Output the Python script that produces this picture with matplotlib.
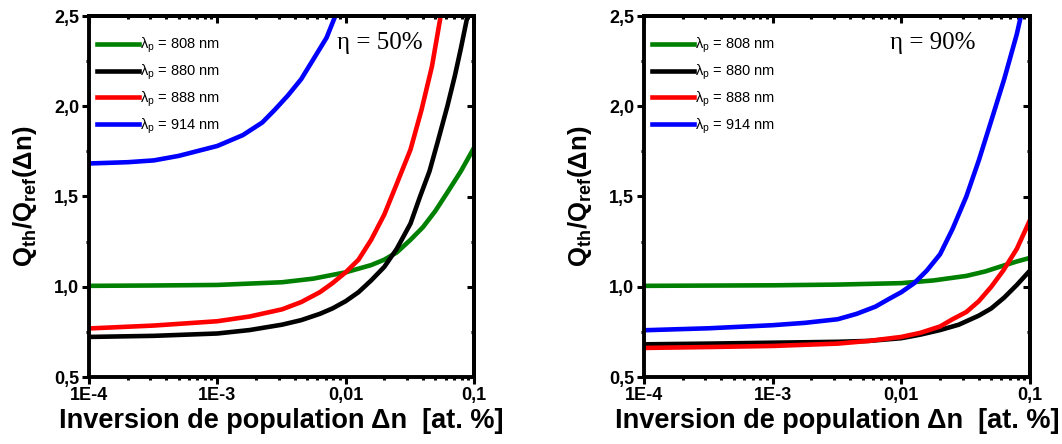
import matplotlib
matplotlib.use('Agg')
import matplotlib.pyplot as plt
from matplotlib.ticker import LogLocator, NullFormatter, MultipleLocator

plt.rcParams['font.family'] = ['Liberation Sans', 'DejaVu Sans']
plt.rcParams['mathtext.fontset'] = 'custom'
plt.rcParams['mathtext.rm'] = 'Liberation Sans'
plt.rcParams['mathtext.bf'] = 'Liberation Sans:bold'

# ---- data, eta = 50 % ----
x808_50 = [1e-4, 3.2e-4, 1e-3, 3.2e-3, 5.6e-3, 1e-2, 1.58e-2, 2e-2, 2.5e-2, 3.2e-2, 4e-2, 5e-2, 6.3e-2, 7.9e-2, 1e-1]
y808_50 = [1.005, 1.007, 1.01, 1.025, 1.045, 1.08, 1.12, 1.15, 1.19, 1.26, 1.33, 1.42, 1.53, 1.64, 1.77]
x880_50 = [1e-4, 3.2e-4, 1e-3, 1.78e-3, 3.2e-3, 4.5e-3, 6.3e-3, 7.9e-3, 1e-2, 1.26e-2, 1.58e-2, 2e-2, 2.5e-2,
           3.2e-2, 3.8e-2, 4.5e-2, 5.2e-2, 6.2e-2, 7.1e-2, 7.9e-2, 8.9e-2]
y880_50 = [0.722, 0.728, 0.741, 0.76, 0.79, 0.815, 0.85, 0.88, 0.92, 0.97, 1.035, 1.11, 1.21,
           1.35, 1.5, 1.64, 1.8, 2.0, 2.17, 2.32, 2.5]
x888_50 = [1e-4, 3.2e-4, 1e-3, 1.78e-3, 3.2e-3, 4.5e-3, 6.3e-3, 7.9e-3, 1e-2, 1.26e-2, 1.58e-2, 2e-2, 2.5e-2,
           3.2e-2, 3.9e-2, 4.7e-2, 5.5e-2]
y888_50 = [0.769, 0.785, 0.809, 0.835, 0.875, 0.915, 0.97, 1.02, 1.08, 1.15, 1.26, 1.4, 1.57,
           1.76, 1.98, 2.22, 2.5]
x914_50 = [1e-4, 2e-4, 3.2e-4, 5e-4, 1e-3, 1.58e-3, 2.24e-3, 2.8e-3, 3.55e-3, 4.5e-3, 5.6e-3, 7.1e-3, 8.3e-3]
y914_50 = [1.683, 1.69, 1.70, 1.725, 1.78, 1.84, 1.91, 1.98, 2.06, 2.15, 2.26, 2.38, 2.5]

# ---- data, eta = 90 % ----
x808_90 = [1e-4, 1e-3, 3.2e-3, 1e-2, 1.78e-2, 3.2e-2, 4.5e-2, 6.2e-2, 7.9e-2, 1e-1]
y808_90 = [1.005, 1.008, 1.012, 1.02, 1.035, 1.06, 1.085, 1.117, 1.14, 1.16]
x880_90 = [1e-4, 3.2e-4, 1e-3, 3.2e-3, 5.6e-3, 1e-2, 1.41e-2, 2e-2, 2.8e-2, 4e-2, 5e-2, 6.3e-2, 7.9e-2, 1e-1]
y880_90 = [0.681, 0.685, 0.69, 0.695, 0.70, 0.715, 0.735, 0.76, 0.79, 0.84, 0.88, 0.94, 1.01, 1.09]
x888_90 = [1e-4, 3.2e-4, 1e-3, 3.2e-3, 5.6e-3, 1e-2, 1.41e-2, 2e-2, 2.5e-2, 3.2e-2, 4e-2, 5e-2, 6.2e-2, 7.9e-2, 1e-1]
y888_90 = [0.661, 0.666, 0.672, 0.685, 0.70, 0.722, 0.745, 0.78, 0.82, 0.86, 0.92, 1.0, 1.09, 1.21, 1.37]
x914_90 = [1e-4, 3.2e-4, 1e-3, 1.78e-3, 3.2e-3, 4.5e-3, 6.3e-3, 7.9e-3, 1e-2, 1.26e-2, 1.58e-2, 2e-2, 2.5e-2,
           3.2e-2, 4e-2, 5e-2, 6.3e-2, 7.9e-2, 8.5e-2]
y914_90 = [0.759, 0.77, 0.787, 0.80, 0.82, 0.85, 0.89, 0.93, 0.97, 1.02, 1.09, 1.18, 1.32,
           1.50, 1.70, 1.92, 2.15, 2.40, 2.5]

labels = ['808 nm', '880 nm', '888 nm', '914 nm']
colors = ['#008000', '#000000', '#ff0000', '#0000ff']
xticks = [1e-4, 1e-3, 1e-2, 1e-1]
xticklabels = ['1E-4', '1E-3', '0,01', '0,1']
yticks = [0.5, 1.0, 1.5, 2.0, 2.5]
yticklabels = ['0,5', '1,0', '1,5', '2,0', '2,5']

panels = [
    ('η = 50%', [(x808_50, y808_50), (x880_50, y880_50), (x888_50, y888_50), (x914_50, y914_50)], 0.644),
    ('η = 90%', [(x808_90, y808_90), (x880_90, y880_90), (x888_90, y888_90), (x914_90, y914_90)], 0.637),
]

fig = plt.figure(figsize=(10.62, 4.44), dpi=100)
lefts = [89 / 1062, 644 / 1062]
widths = [385 / 1062, 386 / 1062]

for i, (eta, series, tx) in enumerate(panels):
    ax = fig.add_axes([lefts[i], 67 / 444, widths[i], 361 / 444])
    for (xs, ys), lab, c in zip(series, labels, colors):
        ax.plot(xs, ys, color=c, lw=3.3, label='λ$_{\\rm p}$ = ' + lab, solid_joinstyle='round')
    ax.set_xscale('log')
    ax.set_xlim(1e-4, 1e-1)
    ax.set_ylim(0.5, 2.5)
    ax.set_xticks(xticks)
    ax.set_xticklabels(xticklabels)
    ax.xaxis.set_minor_locator(LogLocator(base=10, subs=range(2, 10)))
    ax.xaxis.set_minor_formatter(NullFormatter())
    ax.set_yticks(yticks)
    ax.set_yticklabels(yticklabels)
    ax.yaxis.set_minor_locator(MultipleLocator(0.25))
    for lbl in ax.get_xticklabels() + ax.get_yticklabels():
        lbl.set_fontweight('bold')
        lbl.set_fontsize(13)
    ax.tick_params(which='major', direction='out', length=5, width=2.2, pad=2)
    ax.tick_params(which='minor', direction='out', length=2.5, width=2.2)
    for sp in ax.spines.values():
        sp.set_linewidth(2.8)

    # inward ticks on the top and right sides
    top = ax.secondary_xaxis('top')
    top.set_xticks(xticks)
    top.xaxis.set_minor_locator(LogLocator(base=10, subs=range(2, 10)))
    top.xaxis.set_minor_formatter(NullFormatter())
    top.tick_params(which='major', direction='in', length=5, width=2.2, labeltop=False)
    top.tick_params(which='minor', direction='in', length=2.5, width=2.2)
    right = ax.secondary_yaxis('right')
    right.set_yticks(yticks)
    right.yaxis.set_minor_locator(MultipleLocator(0.25))
    right.tick_params(which='major', direction='in', length=5, width=2.2, labelright=False)
    right.tick_params(which='minor', direction='in', length=2.5, width=2.2)
    for s in (top, right):
        for sp in s.spines.values():
            sp.set_linewidth(2.8)

    ax.set_xlabel('Inversion de population Δn  [at. %]', fontsize=19.5, fontweight='bold', labelpad=3)
    ax.set_ylabel('Q$_{\\mathbf{th}}$/Q$_{\\mathbf{ref}}$(Δn)', fontsize=18.5, fontweight='bold', labelpad=11)

    ax.legend(loc='upper left', bbox_to_anchor=(0.02, 0.945), frameon=False, fontsize=10.5,
              handlelength=2.9, handletextpad=0.1, labelspacing=0.5, borderpad=0, borderaxespad=0)
    ax.text(tx, 0.925, eta, transform=ax.transAxes, family='Liberation Serif', fontsize=18,
            va='center', ha='left')

fig.savefig('out.png', dpi=100)
